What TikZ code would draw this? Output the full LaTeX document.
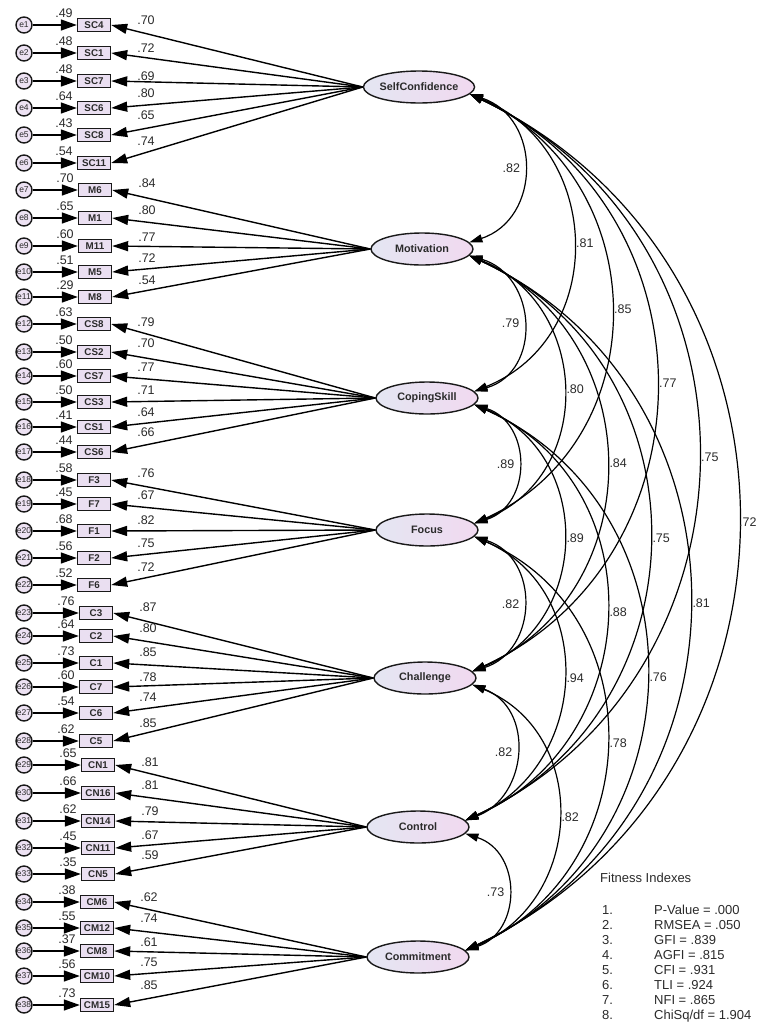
\documentclass[tikz,border=0pt]{standalone}
\usepackage{fontspec}
\setmainfont{Liberation Sans}
\usetikzlibrary{arrows.meta,shapes.geometric}
\definecolor{txt}{HTML}{2B2B2B}
\definecolor{boxfill}{HTML}{EADFF1}
\definecolor{latL}{HTML}{E4E6F2}
\definecolor{latR}{HTML}{F1D9F0}
\definecolor{errfill}{HTML}{EDE2F3}
\newcommand\mvrow[8]{%
  \node[obs] (#1) at (#2,#3) {#1};
  \node[err] (e#4) at (24,#3) {e#4};
  \draw[ea] (e#4) -- (#1);
  \draw[ld] (#8.west) -- (#1.east);
  \node[num] (r#4) at (#2-30,#3-12) {#5};
  \node[num] (l#4) at (#2+52,#7) {#6};
}
\newcommand\covar[6]{%
  \pgfmathsetmacro\cvdx{4*#3/3}%
  \pgfmathsetmacro\cvdy{#4/3*(1-(2*#3/#4)^2)}%
  \draw[cov] (#1.-8) .. controls +(\cvdx,\cvdy) and +(\cvdx,-\cvdy) .. (#2.8)
     node[num, midway, #5] (cv#1#2) {#6};
}
\begin{document}
\begin{tikzpicture}[x=1pt,y=-1pt,
  obs/.style={draw=black!90, line width=1.4pt, fill=boxfill, minimum width=33pt, minimum height=13pt, inner sep=1pt, font=\fontsize{9.8}{10}\selectfont\bfseries, text=txt},
  err/.style={circle, draw=black!90, line width=1.4pt, fill=errfill, minimum size=16pt, inner sep=0pt, font=\fontsize{8.5}{8.5}\selectfont, text=txt},
  lat/.style={ellipse, draw=black!90, line width=1.4pt, left color=latL, right color=latR, minimum width=102pt, minimum height=32pt, inner sep=0pt, font=\fontsize{10.8}{11}\selectfont\bfseries, text=txt},
  num/.style={font=\fontsize{12.5}{13}\selectfont, text=txt, inner sep=0pt},
  fitt/.style={font=\fontsize{13}{14}\selectfont, text=txt, inner sep=0pt},
  ld/.style={line width=1.4pt, -{Triangle[length=16pt,width=10pt]}},
  ea/.style={line width=1.4pt, -{Triangle[length=16pt,width=11pt]}},
  cov/.style={line width=1.2pt, {Triangle[length=13pt,width=8pt]}-{Triangle[length=13pt,width=8pt]}},
]
\useasboundingbox (0,0) rectangle (756,1026);
\clip (0,0) rectangle (756,1026);
\fill[white] (0,0) rectangle (756,1026);

% latent variables
\node[lat] (SC) at (419,87) {SelfConfidence};
\node[lat] (MO) at (422,249) {Motivation};
\node[lat] (CS) at (427,398) {CopingSkill};
\node[lat] (FO) at (427,530) {Focus};
\node[lat] (CH) at (425,678) {Challenge};
\node[lat] (CN) at (418,827) {Control};
\node[lat] (CM) at (418,957) {Commitment};

% indicators
\foreach \b/\y/\i/\r/\l/\ly in {SC4/25/1/.49/.70/20, SC1/53/2/.48/.72/48, SC7/81/3/.48/.69/76, SC6/108/4/.64/.80/93, SC8/135/5/.43/.65/115, SC11/163/6/.54/.74/141}
  {\mvrow{\b}{94}{\y}{\i}{\r}{\l}{\ly}{SC}}
\foreach \b/\y/\i/\r/\l/\ly in {M6/190/7/.70/.84/183, M1/218/8/.65/.80/210, M11/246/9/.60/.77/237, M5/272/10/.51/.72/258, M8/297/11/.29/.54/280}
  {\mvrow{\b}{95}{\y}{\i}{\r}{\l}{\ly}{MO}}
\foreach \b/\y/\i/\r/\l/\ly in {CS8/324/12/.63/.79/322, CS2/352/13/.50/.70/343, CS7/376/14/.60/.77/367, CS3/402/15/.50/.71/390, CS1/427/16/.41/.64/412, CS6/452/17/.44/.66/432}
  {\mvrow{\b}{94}{\y}{\i}{\r}{\l}{\ly}{CS}}
\foreach \b/\y/\i/\r/\l/\ly in {F3/480/18/.58/.76/473, F7/504/19/.45/.67/495, F1/531/20/.68/.82/520, F2/558/21/.56/.75/543, F6/585/22/.52/.72/567}
  {\mvrow{\b}{94}{\y}{\i}{\r}{\l}{\ly}{FO}}
\foreach \b/\y/\i/\r/\l/\ly in {C3/613/23/.76/.87/607, C2/636/24/.64/.80/628, C1/663/25/.73/.85/652, C7/687/26/.60/.78/677, C6/713/27/.54/.74/697, C5/741/28/.62/.85/723}
  {\mvrow{\b}{96}{\y}{\i}{\r}{\l}{\ly}{CH}}
\foreach \b/\y/\i/\r/\l/\ly in {CN1/765/29/.65/.81/762, CN16/793/30/.66/.81/785, CN14/821/31/.62/.79/811, CN11/848/32/.45/.67/835, CN5/874/33/.35/.59/855}
  {\mvrow{\b}{98}{\y}{\i}{\r}{\l}{\ly}{CN}}
\foreach \b/\y/\i/\r/\l/\ly in {CM6/902/34/.38/.62/897, CM12/928/35/.55/.74/918, CM8/951/36/.37/.61/942, CM10/976/37/.56/.75/962, CM15/1005/38/.73/.85/985}
  {\mvrow{\b}{97}{\y}{\i}{\r}{\l}{\ly}{CM}}

% covariances
\covar{SC}{MO}{54}{149}{left=3pt}{.82}
\covar{MO}{CS}{51}{136}{left=3pt}{.79}
\covar{CS}{FO}{43.5}{119}{left=3pt}{.89}
\covar{FO}{CH}{49.5}{135}{left=3pt}{.82}
\covar{CH}{CN}{47}{136}{left=3pt}{.82}
\covar{CN}{CM}{42.5}{117}{left=3pt}{.73}
\covar{SC}{CS}{100.5}{298}{right=3pt}{.81}
\covar{MO}{FO}{91}{268}{right=3pt}{.80}
\covar{CS}{CH}{89.5}{267}{right=3pt}{.89}
\covar{FO}{CN}{93}{284}{right=3pt}{.94}
\covar{CH}{CM}{89}{266}{right=3pt}{.82}
\covar{SC}{FO}{138.5}{430}{right=3pt}{.85}
\covar{MO}{CH}{135}{416}{right=3pt}{.84}
\covar{CS}{CN}{136}{416}{right=3pt}{.88}
\covar{FO}{CM}{136}{414}{right=3pt}{.78}
\covar{SC}{CH}{184.5}{578}{right=3pt}{.77}
\covar{MO}{CN}{181.5}{565}{right=3pt}{.75}
\covar{CS}{CM}{176}{546}{right=3pt}{.76}
\covar{SC}{CN}{230}{727}{right=3pt}{.75}
\covar{MO}{CM}{221.5}{695}{right=3pt}{.81}
\covar{SC}{CM}{270}{857}{right=1pt}{.72}

% fit indexes
\node[fitt, anchor=base west] (fit0) at (600,882) {Fitness Indexes};
\foreach \i/\t in {1/{P-Value = .000}, 2/{RMSEA = .050}, 3/{GFI = .839}, 4/{AGFI = .815}, 5/{CFI = .931}, 6/{TLI = .924}, 7/{NFI = .865}, 8/{ChiSq/df = 1.904}}{
  \node[fitt, anchor=base west] (fn\i) at (602,{914+15*(\i-1)}) {\i.};
  \node[fitt, anchor=base west] (fv\i) at (654,{914+15*(\i-1)}) {\t};
}
\end{tikzpicture}
\end{document}
